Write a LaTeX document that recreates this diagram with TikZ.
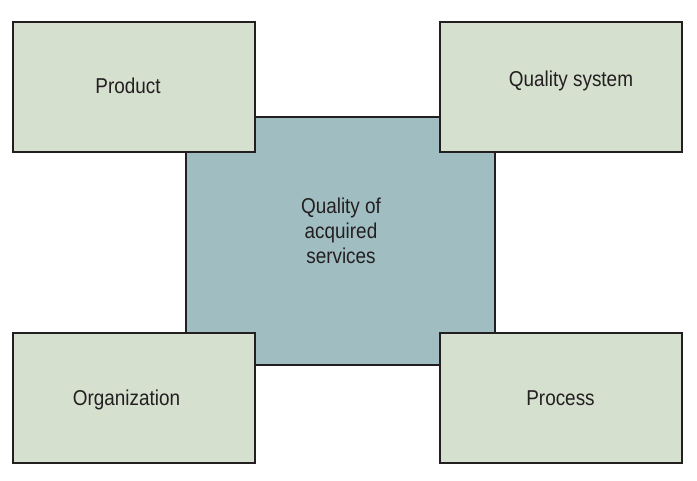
\documentclass[tikz,border=0pt]{standalone}
\usepackage{fontspec}
\setmainfont{Liberation Sans}[FakeStretch=0.88]
\usepackage{tikz}

\definecolor{boxgreen}{HTML}{D6E0CF}
\definecolor{boxteal}{HTML}{A0BEC2}
\definecolor{boxline}{HTML}{231F20}

\begin{document}
\begin{tikzpicture}[x=1pt,y=1pt]

	\tikzset{corner/.style = {rectangle, draw=boxline, fill=boxgreen, line width=2pt, minimum width=242pt, minimum height=130pt}}
	\tikzset{core/.style = {rectangle, draw=boxline, fill=boxteal, line width=1.5pt, minimum width=309pt, minimum height=248pt}}
	\tikzset{txt/.style = {inner sep=0pt, anchor=base, text=boxline, align=center, font=\fontsize{21.5}{25}\selectfont}}

	\useasboundingbox (0,0) rectangle (697,481);

	\node[core] (q)  at (340.5,240)   {};

	\node[corner] (prod)  at (134,394)   {};
	\node[corner] (qsys)  at (560.5,394) {};
	\node[corner] (org)   at (134,83)    {};
	\node[corner] (proc)  at (560.5,83)  {};

	% labels
	\node[txt] (qt)     at (341,217)   {Quality of\\acquired\\services};
	\node[txt] (prodt)  at (128,387)   {Product};
	\node[txt] (qsyst)  at (571,394)   {Quality system};
	\node[txt] (orgt)   at (126.5,75.5) {Organization};
	\node[txt] (proct)  at (560.5,75.5) {Process};

\end{tikzpicture}
\end{document}
